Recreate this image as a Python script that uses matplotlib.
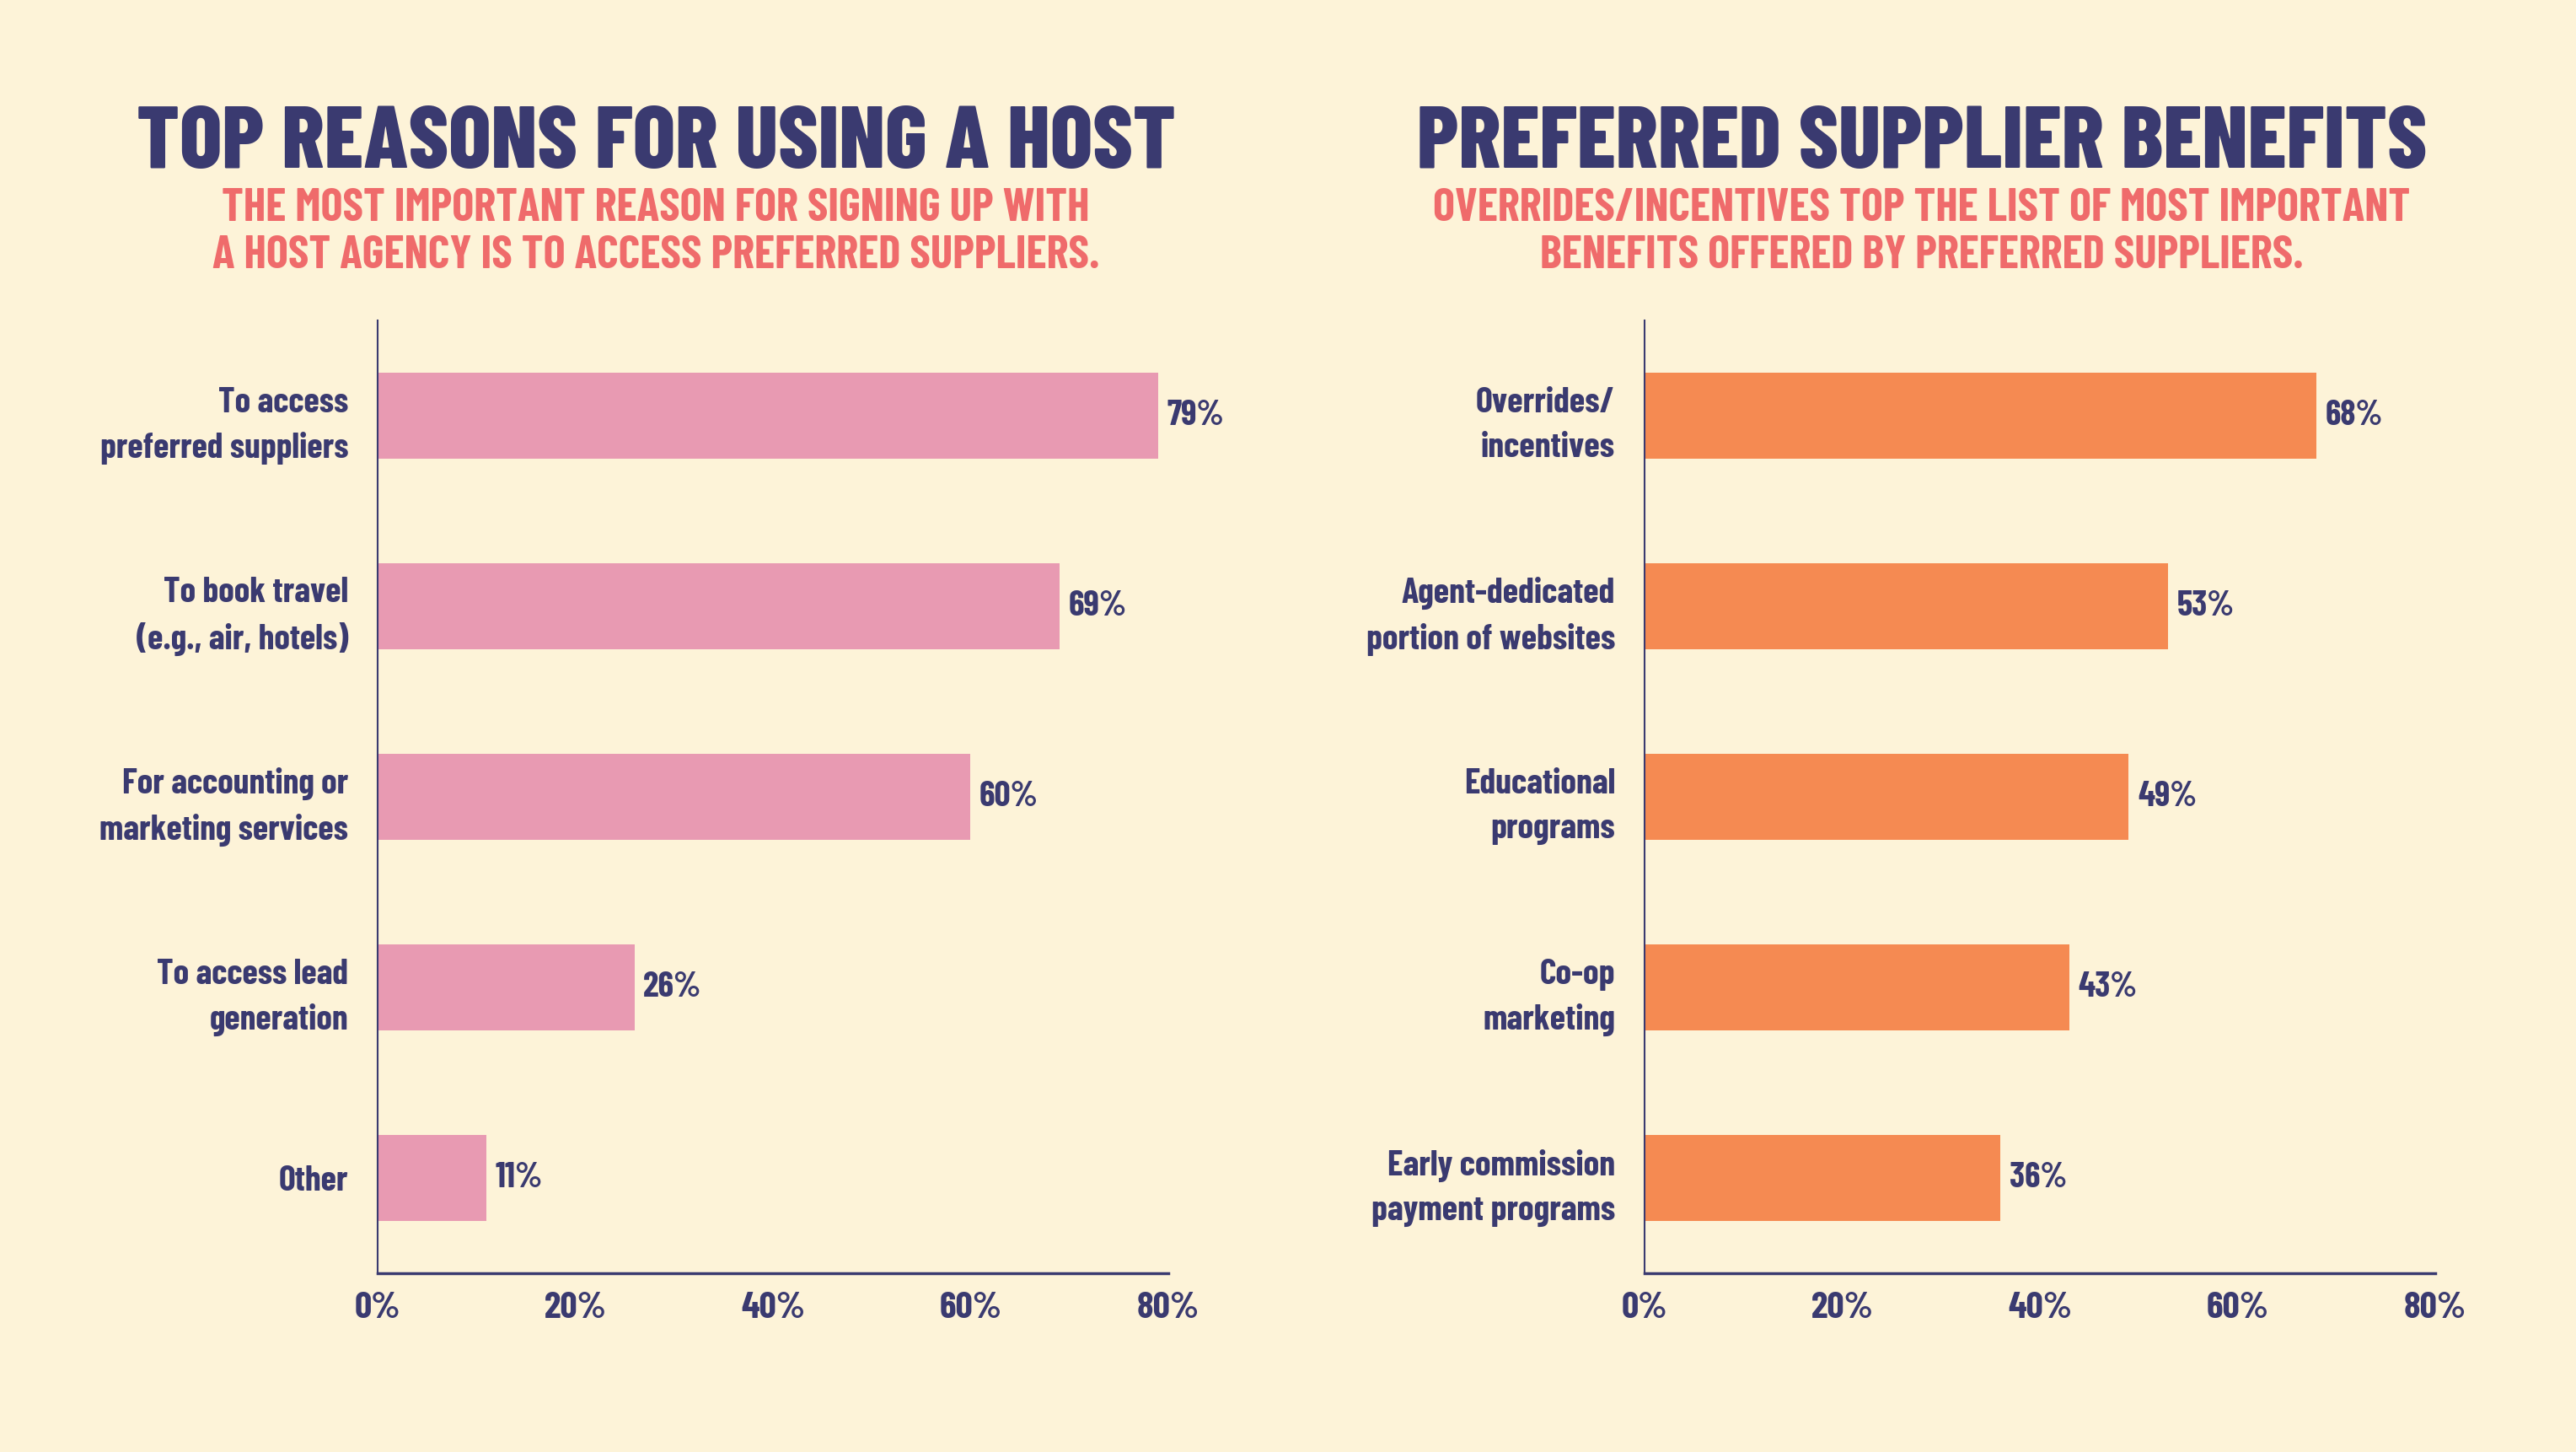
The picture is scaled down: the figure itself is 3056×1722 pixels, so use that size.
import matplotlib.pyplot as plt
from matplotlib import font_manager

# Data
left_labels = ["To access\npreferred suppliers", "To book travel\n(e.g., air, hotels)",
               "For accounting or\nmarketing services", "To access lead\ngeneration", "Other"]
left_values = [79, 69, 60, 26, 11]

right_labels = ["Overrides/\nincentives", "Agent-dedicated\nportion of websites",
                "Educational\nprograms", "Co-op\nmarketing", "Early commission\npayment programs"]
right_values = [68, 53, 49, 43, 36]

x_ticks = [0, 20, 40, 60, 80]

left_title = "TOP REASONS FOR USING A HOST"
left_sub = "THE MOST IMPORTANT REASON FOR SIGNING UP WITH\nA HOST AGENCY IS TO ACCESS PREFERRED SUPPLIERS."
right_title = "PREFERRED SUPPLIER BENEFITS"
right_sub = "OVERRIDES/INCENTIVES TOP THE LIST OF MOST IMPORTANT\nBENEFITS OFFERED BY PREFERRED SUPPLIERS."

# Colours
bg = "#FDF3D8"
navy = "#3A3A70"
pink = "#E89AB2"
orange = "#F58A52"
coral = "#EF6B6B"

# pick a condensed face that has a real (static) bold file
fonts = font_manager.fontManager.ttflist
font = "Oswald"
for cand in ["Barlow Condensed", "Roboto Condensed", "Saira Condensed", "Sofia Sans Condensed",
             "IBM Plex Sans Condensed", "Archivo Narrow", "Fjalla One"]:
    if any(f.name == cand and f.weight >= 700 and '[' not in f.fname for f in fonts):
        font = cand
        break
plt.rcParams['font.family'] = [font, 'DejaVu Sans']

fig = plt.figure(figsize=(30.56, 17.22), dpi=100, facecolor=bg)
renderer = fig.canvas.get_renderer()


def fit_width(texts, target_px, max_size=200):
    # one common size so the widest text matches the reference width
    texts = list(texts)
    w = max(t.get_window_extent(renderer).width for t in texts)
    size = min(texts[0].get_fontsize() * target_px / w, max_size)
    for t in texts:
        t.set_fontsize(size)


def draw_panel(rect, labels, values, color):
    ax = fig.add_axes(rect, facecolor=bg)
    pos = list(range(len(values)))
    ax.barh(pos, values, height=0.45, color=color)
    vals = [ax.text(v + 0.9, p, f"{v}%", va='center', ha='left', fontsize=32,
                    color=navy, fontweight='bold') for p, v in zip(pos, values)]
    ax.set_xlim(0, 80)
    ax.set_ylim(4.5, -0.5)
    ax.set_yticks(pos)
    ax.set_yticklabels(labels, fontsize=32, color=navy, fontweight='bold',
                       linespacing=1.5)
    ax.set_xticks(x_ticks)
    ax.set_xticklabels([f"{t}%" for t in x_ticks], fontsize=32, color=navy,
                       fontweight='bold')
    ax.tick_params(axis='both', length=0)
    ax.tick_params(axis='y', pad=25)
    ax.tick_params(axis='x', pad=16)
    for s in ['top', 'right']:
        ax.spines[s].set_visible(False)
    ax.spines['left'].set_color(navy)
    ax.spines['left'].set_linewidth(1.5)
    ax.spines['bottom'].set_color(navy)
    ax.spines['bottom'].set_linewidth(2.5)
    fit_width(ax.get_yticklabels(), 296)
    fit_width(ax.get_xticklabels(), 76)
    fit_width(vals, 70)
    return ax


draw_panel([0.1466, 0.1231, 0.3069, 0.6562], left_labels, left_values, pink)
draw_panel([0.6384, 0.1231, 0.3069, 0.6562], right_labels, right_values, orange)

# Titles
t1 = fig.text(0.2546, 0.900, left_title, ha='center', va='center', fontsize=72,
              color=navy, fontweight='heavy')
s1 = fig.text(0.2546, 0.840, left_sub, ha='center', va='center', fontsize=33,
              color=coral, fontweight='bold', linespacing=1.2)
t2 = fig.text(0.7461, 0.900, right_title, ha='center', va='center', fontsize=72,
              color=navy, fontweight='heavy')
s2 = fig.text(0.7461, 0.840, right_sub, ha='center', va='center', fontsize=33,
              color=coral, fontweight='bold', linespacing=1.2)

fit_width([t1], 1234, 80)
fit_width([t2], 1199, 80)
fit_width([s1], 1052, 40)
fit_width([s2], 1158, 40)

fig.savefig("out.png", dpi=100, facecolor=bg)
